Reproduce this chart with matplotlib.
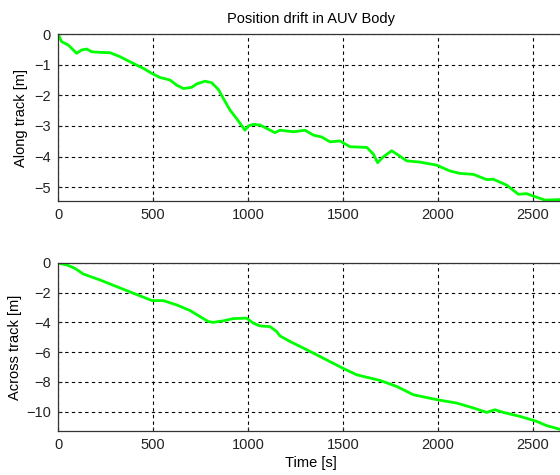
import matplotlib
matplotlib.use("Agg")
import matplotlib.pyplot as plt

plt.rcParams['font.family'] = ['Liberation Sans', 'DejaVu Sans']

# Along-track drift (top panel)
t_along = [0, 19, 54, 98, 125, 151, 177, 221, 274, 326, 396, 449, 495, 537, 589, 625,
           660, 704, 730, 774, 809, 844, 870, 905, 940, 984, 1002, 1028, 1063, 1098,
           1142, 1168, 1239, 1300, 1344, 1388, 1432, 1484, 1537, 1625, 1660, 1682,
           1712, 1756, 1800, 1835, 1905, 1993, 2063, 2116, 2186, 2256, 2291, 2361,
           2423, 2467, 2502, 2563, 2660]
along = [0.0, -0.25, -0.36, -0.63, -0.52, -0.49, -0.58, -0.60, -0.61, -0.74, -0.96,
         -1.12, -1.29, -1.42, -1.50, -1.67, -1.78, -1.74, -1.63, -1.54, -1.59, -1.81,
         -2.10, -2.48, -2.76, -3.14, -3.00, -2.95, -2.97, -3.08, -3.22, -3.14, -3.19,
         -3.14, -3.30, -3.36, -3.52, -3.49, -3.68, -3.70, -3.92, -4.20, -4.01, -3.81,
         -3.99, -4.14, -4.18, -4.28, -4.47, -4.55, -4.58, -4.75, -4.74, -4.93, -5.23,
         -5.21, -5.29, -5.42, -5.40]

# Across-track drift (bottom panel)
t_across = [0, 46, 89, 133, 221, 309, 396, 495, 554, 625, 695, 747, 791, 817, 870,
            923, 993, 1028, 1063, 1116, 1151, 1168, 1221, 1291, 1379, 1498, 1572,
            1695, 1782, 1870, 1993, 2098, 2186, 2256, 2300, 2344, 2432, 2519, 2572,
            2660]
across = [0.0, -0.13, -0.36, -0.74, -1.14, -1.59, -2.03, -2.53, -2.53, -2.82, -3.20,
          -3.60, -3.94, -3.99, -3.89, -3.74, -3.71, -4.05, -4.23, -4.28, -4.61, -4.90,
          -5.28, -5.72, -6.29, -7.07, -7.52, -7.90, -8.30, -8.86, -9.19, -9.42, -9.75,
          -10.05, -9.87, -10.05, -10.32, -10.65, -10.94, -11.25]

x_ticks = [0, 500, 1000, 1500, 2000, 2500]
top_yticks = [0, -1, -2, -3, -4, -5]
bot_yticks = [0, -2, -4, -6, -8, -10]

W, H = 560, 475
fig = plt.figure(figsize=(W / 100, H / 100), dpi=100)

left = 58 / W
width = (2660 * 0.19) / W
ax1 = fig.add_axes([left, 1 - 201 / H, width, (201 - 34) / H])
ax2 = fig.add_axes([left, 1 - 431 / H, width, (431 - 263) / H])

fs = 10.5
green = '#00ff00'
for ax, t, y, yt, ylim, lab, lx in [
        (ax1, t_along, along, top_yticks, (-5.45, 0), 'Along track [m]', -0.059),
        (ax2, t_across, across, bot_yticks, (-11.3, 0), 'Across track [m]', -0.072)]:
    ax.plot(t, y, color=green, lw=2)
    ax.set_xlim(0, 2660)
    ax.set_ylim(*ylim)
    ax.set_xticks(x_ticks)
    ax.set_yticks(yt)
    ax.grid(True, color='black', linestyle=(0, (3, 3)), linewidth=0.8)
    ax.tick_params(direction='in', length=3, labelsize=fs, pad=5, colors='#222222')
    ax.tick_params(axis='x', pad=5)
    for s in ax.spines.values():
        s.set_color('#333333')
        s.set_linewidth(0.9)
    ax.set_ylabel(lab, fontsize=fs)
    ax.yaxis.set_label_coords(lx, 0.5)

ax1.set_title('Position drift in AUV Body', fontsize=fs, pad=8)
ax2.set_xlabel('Time [s]', fontsize=fs, labelpad=3)

fig.savefig('out.png', dpi=100)
